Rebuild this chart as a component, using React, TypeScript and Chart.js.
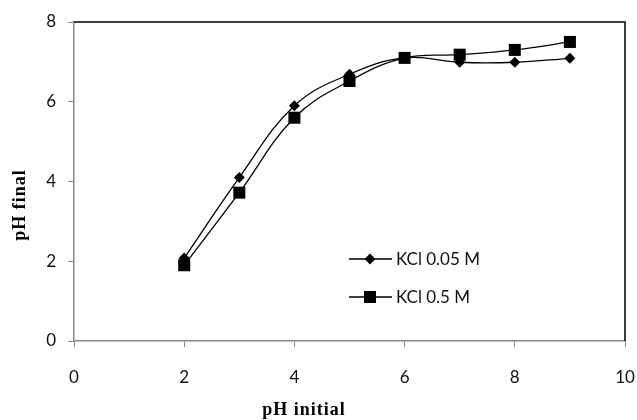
import React, { useEffect, useRef } from "react";
import { Chart, registerables } from "chart.js";

Chart.register(...registerables);

const phInitial = [2, 3, 4, 5, 6, 7, 8, 9];
const kcl005 = [2.08, 4.1, 5.9, 6.69, 7.1, 6.99, 6.99, 7.09];
const kcl05 = [1.9, 3.72, 5.6, 6.52, 7.1, 7.18, 7.3, 7.5];
const seriesNames = ["KCl 0.05 M", "KCl 0.5 M"];
const xTitle = "pH initial";
const yTitle = "pH final";

const SANS = "Lato, 'Open Sans', sans-serif";
const SERIF = "'Liberation Serif', 'Times New Roman', serif";

const frameLegendPlugin = {
  id: "frameLegend",
  afterDatasetsDraw(chart: any) {
    const { ctx, chartArea } = chart;
    ctx.save();
    ctx.strokeStyle = "#000";
    ctx.lineWidth = 1.5;
    ctx.beginPath();
    ctx.moveTo(chartArea.left, chartArea.top);
    ctx.lineTo(chartArea.right, chartArea.top);
    ctx.lineTo(chartArea.right, chartArea.bottom);
    ctx.stroke();
    // legend
    const rows = [259, 297];
    rows.forEach((y, i) => {
      ctx.strokeStyle = "#000";
      ctx.lineWidth = 1.5;
      ctx.beginPath();
      ctx.moveTo(349, y);
      ctx.lineTo(392, y);
      ctx.stroke();
      ctx.fillStyle = "#000";
      ctx.beginPath();
      if (i === 0) {
        const r = 5.5;
        ctx.moveTo(370 - r, y);
        ctx.lineTo(370, y - r);
        ctx.lineTo(370 + r, y);
        ctx.lineTo(370, y + r);
        ctx.closePath();
      } else {
        const h = 6;
        ctx.rect(370 - h, y - h, 2 * h, 2 * h);
      }
      ctx.fill();
      ctx.font = `17px ${SANS}`;
      ctx.textBaseline = "middle";
      ctx.textAlign = "left";
      ctx.fillStyle = "#111";
      ctx.fillText(seriesNames[i], 396, y + 1);
    });
    // axis titles
    ctx.fillStyle = "#000";
    ctx.font = `bold 18px ${SERIF}`;
    ctx.textAlign = "center";
    ctx.textBaseline = "middle";
    (ctx as any).letterSpacing = "1px";
    ctx.fillText(xTitle, 304, 410);
    ctx.translate(20, 205);
    ctx.rotate(-Math.PI / 2);
    ctx.fillText(yTitle, 0, 0);
    ctx.restore();
  },
};

export default function App() {
  const ref = useRef<HTMLCanvasElement>(null);
  useEffect(() => {
    document.body.style.margin = "0";
    const tickFont = { family: SANS, size: 17 };
    const chart = new Chart(ref.current!, {
      type: "line",
      data: {
        labels: phInitial,
        datasets: [
          {
            label: seriesNames[0],
            data: phInitial.map((x, i) => ({ x, y: kcl005[i] })),
            borderColor: "#000",
            backgroundColor: "#000",
            borderWidth: 1.3,
            pointStyle: "rectRot",
            pointRadius: 5.5,
            pointBorderWidth: 0,
            tension: 0.4,
          },
          {
            label: seriesNames[1],
            data: phInitial.map((x, i) => ({ x, y: kcl05[i] })),
            borderColor: "#000",
            backgroundColor: "#000",
            borderWidth: 1.3,
            pointStyle: "rect",
            pointRadius: 8.5,
            pointBorderWidth: 0,
            tension: 0.4,
          },
        ],
      },
      options: {
        animation: false,
        responsive: false,
        maintainAspectRatio: false,
        layout: { padding: { top: 22, right: 12, left: 0, bottom: 0 } },
        plugins: { legend: { display: false }, tooltip: { enabled: false } },
        scales: {
          x: {
            type: "linear",
            min: 0,
            max: 10,
            ticks: { stepSize: 2, font: tickFont, color: "#111", padding: 20 },
            grid: { drawOnChartArea: false, tickLength: 6, color: "#888" },
            border: { color: "#888", width: 1.5 },
            afterFit: (s: any) => {
              s.height = 79;
              s.paddingLeft = 0;
              s.paddingRight = 0;
            },
          },
          y: {
            min: 0,
            max: 8,
            ticks: { stepSize: 2, font: tickFont, color: "#111", padding: 12 },
            grid: { drawOnChartArea: false, tickLength: 6, color: "#888" },
            border: { color: "#888", width: 1.5 },
            afterFit: (s: any) => {
              s.width = 74;
              s.paddingTop = 0;
              s.paddingBottom = 0;
            },
          },
        },
      },
      plugins: [frameLegendPlugin],
    });
    return () => chart.destroy();
  }, []);
  return <canvas ref={ref} width={637} height={420} style={{ display: "block" }} />;
}
